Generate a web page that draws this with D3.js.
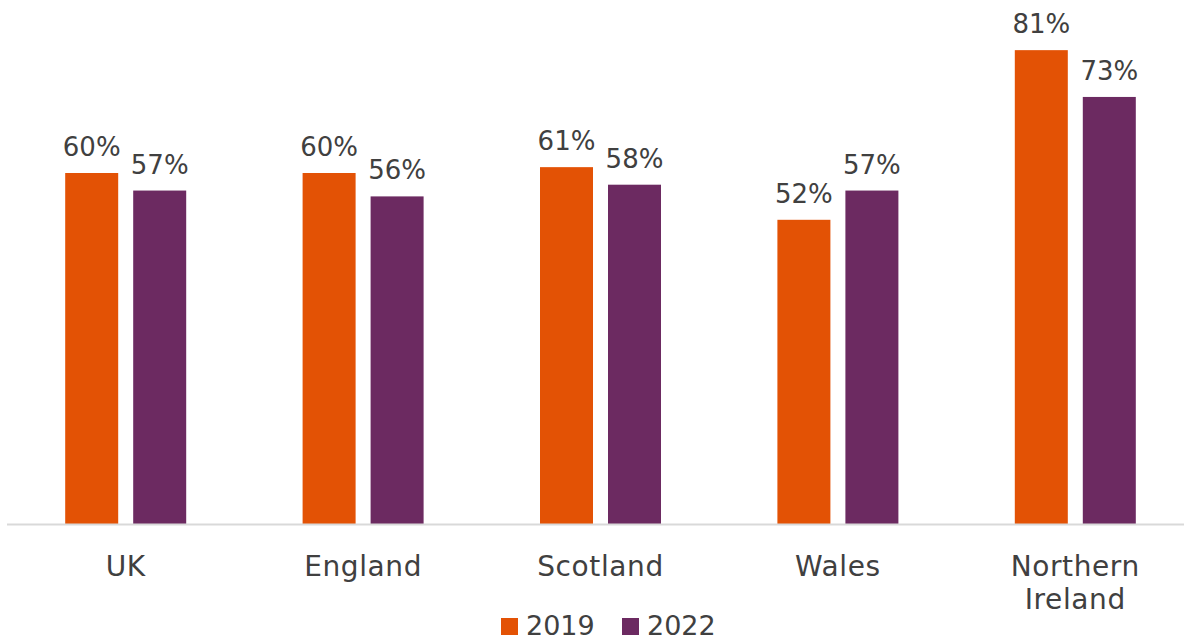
<!DOCTYPE html>
<html>
<head>
<meta charset="utf-8">
<script src="https://cdn.jsdelivr.net/npm/d3@7"></script>
<style>
  body { margin: 0; background: #fff; }
  svg text { font-family: "DejaVu Sans", Verdana, sans-serif; fill: #404040; }
</style>
</head>
<body>
<svg id="chart" width="1184" height="642"></svg>
<script>
// Share of respondents by nation, 2019 vs 2022
const categories = ["UK", "England", "Scotland", "Wales", "Northern Ireland"];
const years = ["2019", "2022"];
const values2019 = [60, 60, 61, 52, 81];
const values2022 = [57, 56, 58, 57, 73];
const colors = ["#E35205", "#6C2A61"];

const svg = d3.select("#chart");
const left = 7, right = 1194, baseline = 524;

const x = d3.scaleBand().domain(categories).range([left, right]).padding(0);
const y = d3.scaleLinear().domain([0, 100]).range([baseline, baseline - 585]);

const barW = 53, gap = 15;
const series = [values2019, values2022];

series.forEach((vals, si) => {
  const offset = si === 0 ? -(gap / 2 + barW) : gap / 2;
  const g = svg.append("g");
  g.selectAll("rect").data(categories).join("rect")
    .attr("x", d => x(d) + x.bandwidth() / 2 + offset)
    .attr("y", (d, i) => y(vals[i]))
    .attr("width", barW)
    .attr("height", (d, i) => baseline - y(vals[i]))
    .attr("fill", colors[si]);
  g.selectAll("text").data(categories).join("text")
    .attr("x", d => x(d) + x.bandwidth() / 2 + offset + barW / 2)
    .attr("y", (d, i) => y(vals[i]) - 17)
    .attr("text-anchor", "middle")
    .attr("font-size", 26)
    .text((d, i) => vals[i] + "%");
});

// axis baseline
svg.append("line")
  .attr("x1", left).attr("x2", 1184)
  .attr("y1", baseline + 0.5).attr("y2", baseline + 0.5)
  .attr("stroke", "#d9d9d9").attr("stroke-width", 2);

// category labels (wrapped)
const wrap = { "Northern Ireland": ["Northern", "Ireland"] };
categories.forEach(c => {
  const lines = wrap[c] || [c];
  const cx = x(c) + x.bandwidth() / 2;
  const t = svg.append("text")
    .attr("x", cx)
    .attr("y", 576)
    .attr("text-anchor", "middle")
    .attr("font-size", 28)
    .attr("letter-spacing", 0.6);
  lines.forEach((l, i) => {
    t.append("tspan").attr("x", cx).attr("dy", i === 0 ? 0 : 33).text(l);
  });
});

// legend
const legend = svg.append("g");
const legendX = [501, 622];
years.forEach((yr, i) => {
  legend.append("rect")
    .attr("x", legendX[i]).attr("y", 618)
    .attr("width", 17).attr("height", 17)
    .attr("fill", colors[i]);
  legend.append("text")
    .attr("x", legendX[i] + 25).attr("y", 635)
    .attr("font-size", 27)
    .text(yr);
});
</script>
</body>
</html>
